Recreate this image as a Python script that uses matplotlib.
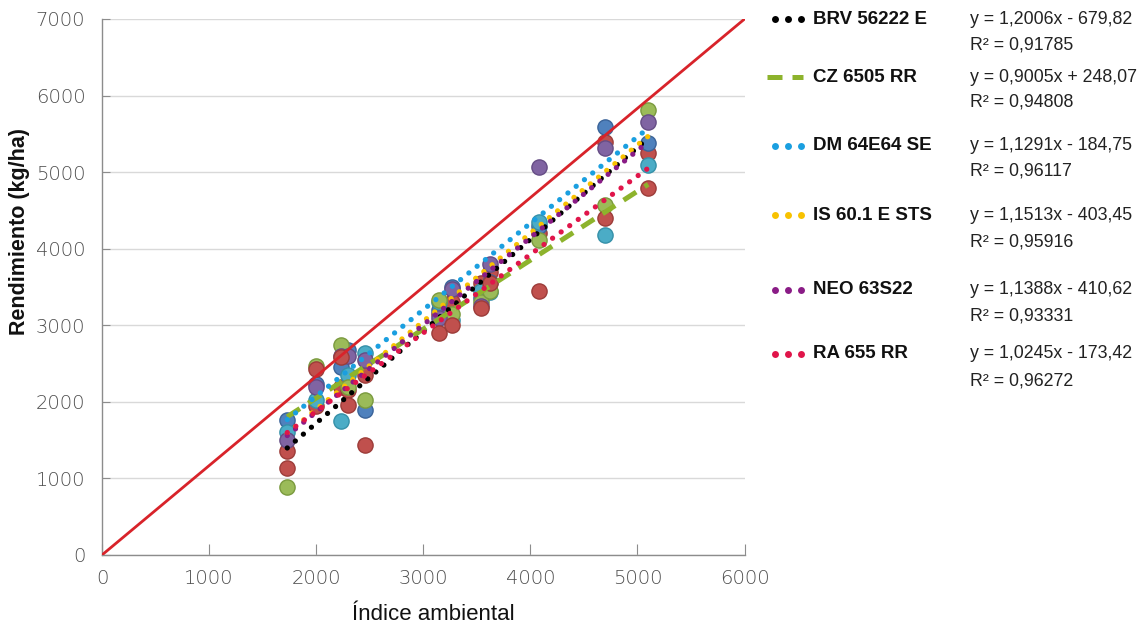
import matplotlib
matplotlib.use("Agg")
import matplotlib.pyplot as plt
import numpy as np

plt.rcParams['font.family'] = ['Liberation Sans', 'DejaVu Sans']

# environment index (x) shared by all varieties
indice = [1730, 2000, 2230, 2300, 2460, 3150, 3270, 3540, 3620, 4080, 4700, 5100]

# yields (kg/ha)
brv = [1760, 2230, 2450, 2680, 1890, 3200, 3500, 3350, 3560, 4300, 5590, 5380]
cz = [890, 2470, 2740, 2200, 2020, 3330, 3150, 3300, 3450, 4110, 4570, 5810]
dm = [1600, 2030, 1750, 2350, 2640, 3300, 3070, 3450, 3430, 4350, 4180, 5090]
is60 = [1360, 1950, 2200, 2150, 2350, 3150, 3300, 3550, 3700, 4200, 5390, 5250]
neo = [1500, 2200, 2600, 2600, 2550, 3100, 3480, 3250, 3800, 5070, 5315, 5655]
ra = [1130, 2430, 2590, 1960, 1440, 2900, 3000, 3225, 3550, 3450, 4400, 4790]

variedades = ["BRV 56222 E", "CZ 6505 RR", "DM 64E64 SE", "IS 60.1 E STS", "NEO 63S22", "RA 655 RR"]
pendientes = [1.2006, 0.9005, 1.1291, 1.1513, 1.1388, 1.0245]
ordenadas = [-679.82, 248.07, -184.75, -403.45, -410.62, -173.42]
r2 = ["0,91785", "0,94808", "0,96117", "0,95916", "0,93331", "0,96272"]
ecuaciones = ["y = 1,2006x - 679,82", "y = 0,9005x + 248,07", "y = 1,1291x - 184,75",
              "y = 1,1513x - 403,45", "y = 1,1388x - 410,62", "y = 1,0245x - 173,42"]

series = [brv, cz, dm, is60, neo, ra]
point_colors = ['#4f81bd', '#9bbb59', '#4bacc6', '#c0504d', '#8064a2', '#c0504d']
edge_colors = ['#3a6399', '#7a9a3e', '#3590a8', '#9c3c39', '#654d85', '#9c3c39']
trend_colors = ['#000000', '#8db32c', '#1a9fe0', '#f8c200', '#8a1c86', '#e0154a']

fig = plt.figure(figsize=(11.42, 6.24), dpi=100)
ax = fig.add_axes([0.0893, 0.1106, 0.5627, 0.859])

# 1:1-ish reference line
ax.plot([0, 6000], [0, 7000], color='#d8232a', lw=2.0, zorder=4)

# scatter of each variety
scatter_order = [3, 0, 2, 1, 4, 5]
for i in scatter_order:
    ax.scatter(indice, series[i], s=120, color=point_colors[i], edgecolors=edge_colors[i],
               linewidths=1.0, zorder=2)

# linear trend lines
xs = np.array([min(indice), max(indice)])
for i in range(len(variedades)):
    ys = pendientes[i] * xs + ordenadas[i]
    if i == 1:
        ax.plot(xs, ys, color=trend_colors[i], lw=3.6, linestyle=(0, (3, 2)),
                dash_capstyle='butt', zorder=3)
    else:
        ax.plot(xs, ys, color=trend_colors[i], lw=3.8, linestyle=(0, (0.01, 2.0)),
                dash_capstyle='round', zorder=3)

ax.set_xlim(0, 6000)
ax.set_ylim(0, 7000)
ax.set_xticks(range(0, 6001, 1000))
ax.set_yticks(range(0, 7001, 1000))
ax.grid(axis='y', color='#d9d9d9', lw=1.0)
ax.set_axisbelow(True)
for s in ['top', 'right']:
    ax.spines[s].set_visible(False)
for s in ['left', 'bottom']:
    ax.spines[s].set_color('#8c8c8c')
    ax.spines[s].set_linewidth(1.0)
ax.tick_params(axis='x', direction='in', length=8, color='#8c8c8c', labelsize=14,
               labelcolor='#4d4d4d', pad=10)
ax.tick_params(axis='y', direction='in', length=6, color='#8c8c8c', labelsize=14,
               labelcolor='#4d4d4d', pad=12)
for lab in ax.get_xticklabels() + ax.get_yticklabels():
    lab.set_fontfamily(['DejaVu Sans'])
    lab.set_fontweight('light')

ax.set_xlabel("Índice ambiental", fontsize=16, color='#111111')
ax.set_ylabel("Rendimiento (kg/ha)", fontsize=15.5, fontweight='bold', color='#111111')
ax.xaxis.set_label_coords(0.515, -0.092)
ax.yaxis.set_label_coords(-0.112, 0.603)

# legend drawn on an overlay in pixel coordinates
ov = fig.add_axes([0, 0, 1, 1])
ov.set_xlim(0, 1142)
ov.set_ylim(624, 0)
ov.axis('off')

row_y = [19, 77, 146, 215, 290, 354]
r2_y = [45, 102, 171, 242, 316, 381]
for i, name in enumerate(variedades):
    y = row_y[i]
    if i == 1:
        ov.plot([767, 782], [y, y], color=trend_colors[i], lw=3.6, solid_capstyle='butt')
        ov.plot([792, 803], [y, y], color=trend_colors[i], lw=3.6, solid_capstyle='butt')
    else:
        ov.plot([775, 788, 801], [y, y, y], 'o', ms=5, color=trend_colors[i], mec='none')
    ov.text(813, y, name, fontsize=13.5, fontweight='bold', va='center', ha='left', color='#111111')
    ov.text(970, y, ecuaciones[i], fontsize=12.8, va='center', ha='left', color='#222222')
    ov.text(970, r2_y[i], "R² = " + r2[i], fontsize=12.8, va='center', ha='left', color='#222222')

fig.savefig("out.png", dpi=100)
